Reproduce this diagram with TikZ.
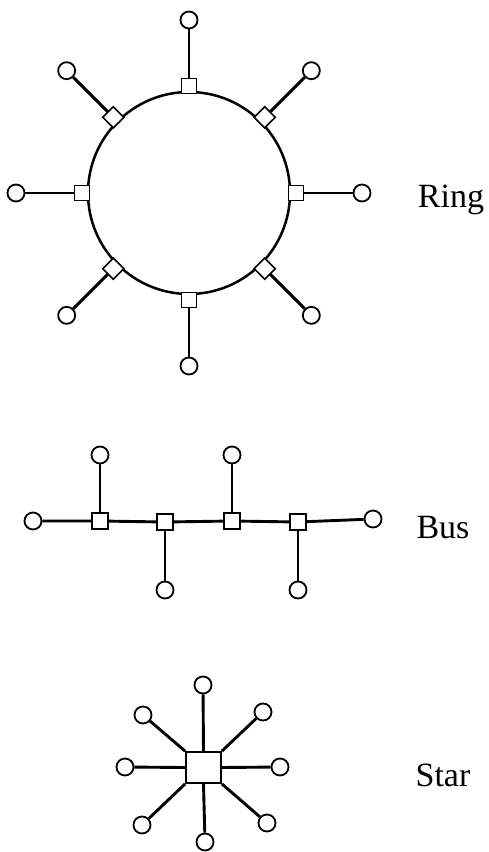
\documentclass[tikz,border=0pt]{standalone}
\usepackage{fontspec}
\setmainfont{Liberation Serif}
\begin{document}
\begin{tikzpicture}[x=1pt,y=-1pt,
  link/.style={line width=2.9pt},
  host/.style={circle,draw,line width=1.8pt,fill=white,minimum size=17pt,inner sep=0pt},
  tap/.style={rectangle,draw,line width=1.6pt,fill=white,minimum size=15pt,inner sep=0pt},
  hub/.style={rectangle,draw,line width=1.8pt,fill=white,minimum width=35pt,minimum height=31pt,inner sep=0pt},
  lbl/.style={font=\fontsize{34}{40}\selectfont,inner sep=0pt}]
\useasboundingbox (0,0) rectangle (489,852);

% ---------- Ring ----------
\coordinate (rc) at (189,193);
\draw[line width=2.5pt] (rc) circle[radius=101];
\foreach \a [count=\i] in {90,45,0,-45,-90,-135,180,135}{
  \node[host] (rh\i) at ([shift={(\a:173)}]rc) {};
  \draw[link] ([shift={(\a:107)}]rc) -- (rh\i);
  \node[tap,rotate=\a] (rs\i) at ([shift={(\a:107)}]rc) {};
}
\node[lbl,anchor=base] (ringlbl) at (451,207) {Ring};

% ---------- Bus ----------
\node[tap,minimum size=16pt] (b1) at (100,521) {};
\node[tap,minimum size=16pt] (b2) at (165,522) {};
\node[tap,minimum size=16pt] (b3) at (232,521) {};
\node[tap,minimum size=16pt] (b4) at (298,522) {};
\node[host] (bl) at (33,521) {};
\node[host] (br) at (373,519) {};
\node[host] (bt1) at (100,455) {};
\node[host] (bt3) at (232,455) {};
\node[host] (bb2) at (165,590) {};
\node[host] (bb4) at (298,590) {};
\draw[link] (bl) -- (b1) -- (b2) -- (b3) -- (b4) -- (br);
\draw[link] (b1) -- (bt1);
\draw[link] (b3) -- (bt3);
\draw[link] (b2) -- (bb2);
\draw[link] (b4) -- (bb4);
\foreach \n in {b1,b2,b3,b4}{\node[tap,minimum size=16pt] at (\n) {};}
\node[lbl,anchor=base] (buslbl) at (443,538) {Bus};

% ---------- Star ----------
\node[hub] (sh) at (203.5,767.5) {};
\node[host] (s1) at (203,685) {};
\node[host] (s2) at (263,712) {};
\node[host] (s3) at (280,767) {};
\node[host] (s4) at (267,823) {};
\node[host] (s5) at (205,842) {};
\node[host] (s6) at (142,825) {};
\node[host] (s7) at (125,767) {};
\node[host] (s8) at (143,715) {};
\draw[link] (sh.north) -- (s1);
\draw[link] (sh.north east) -- (s2);
\draw[link] (sh.east) -- (s3);
\draw[link] (sh.south east) -- (s4);
\draw[link] (sh.south) -- (s5);
\draw[link] (sh.south west) -- (s6);
\draw[link] (sh.west) -- (s7);
\draw[link] (sh.north west) -- (s8);
\node[hub] at (sh) {};
\node[lbl,anchor=base] (starlbl) at (443,786) {Star};
\end{tikzpicture}
\end{document}
